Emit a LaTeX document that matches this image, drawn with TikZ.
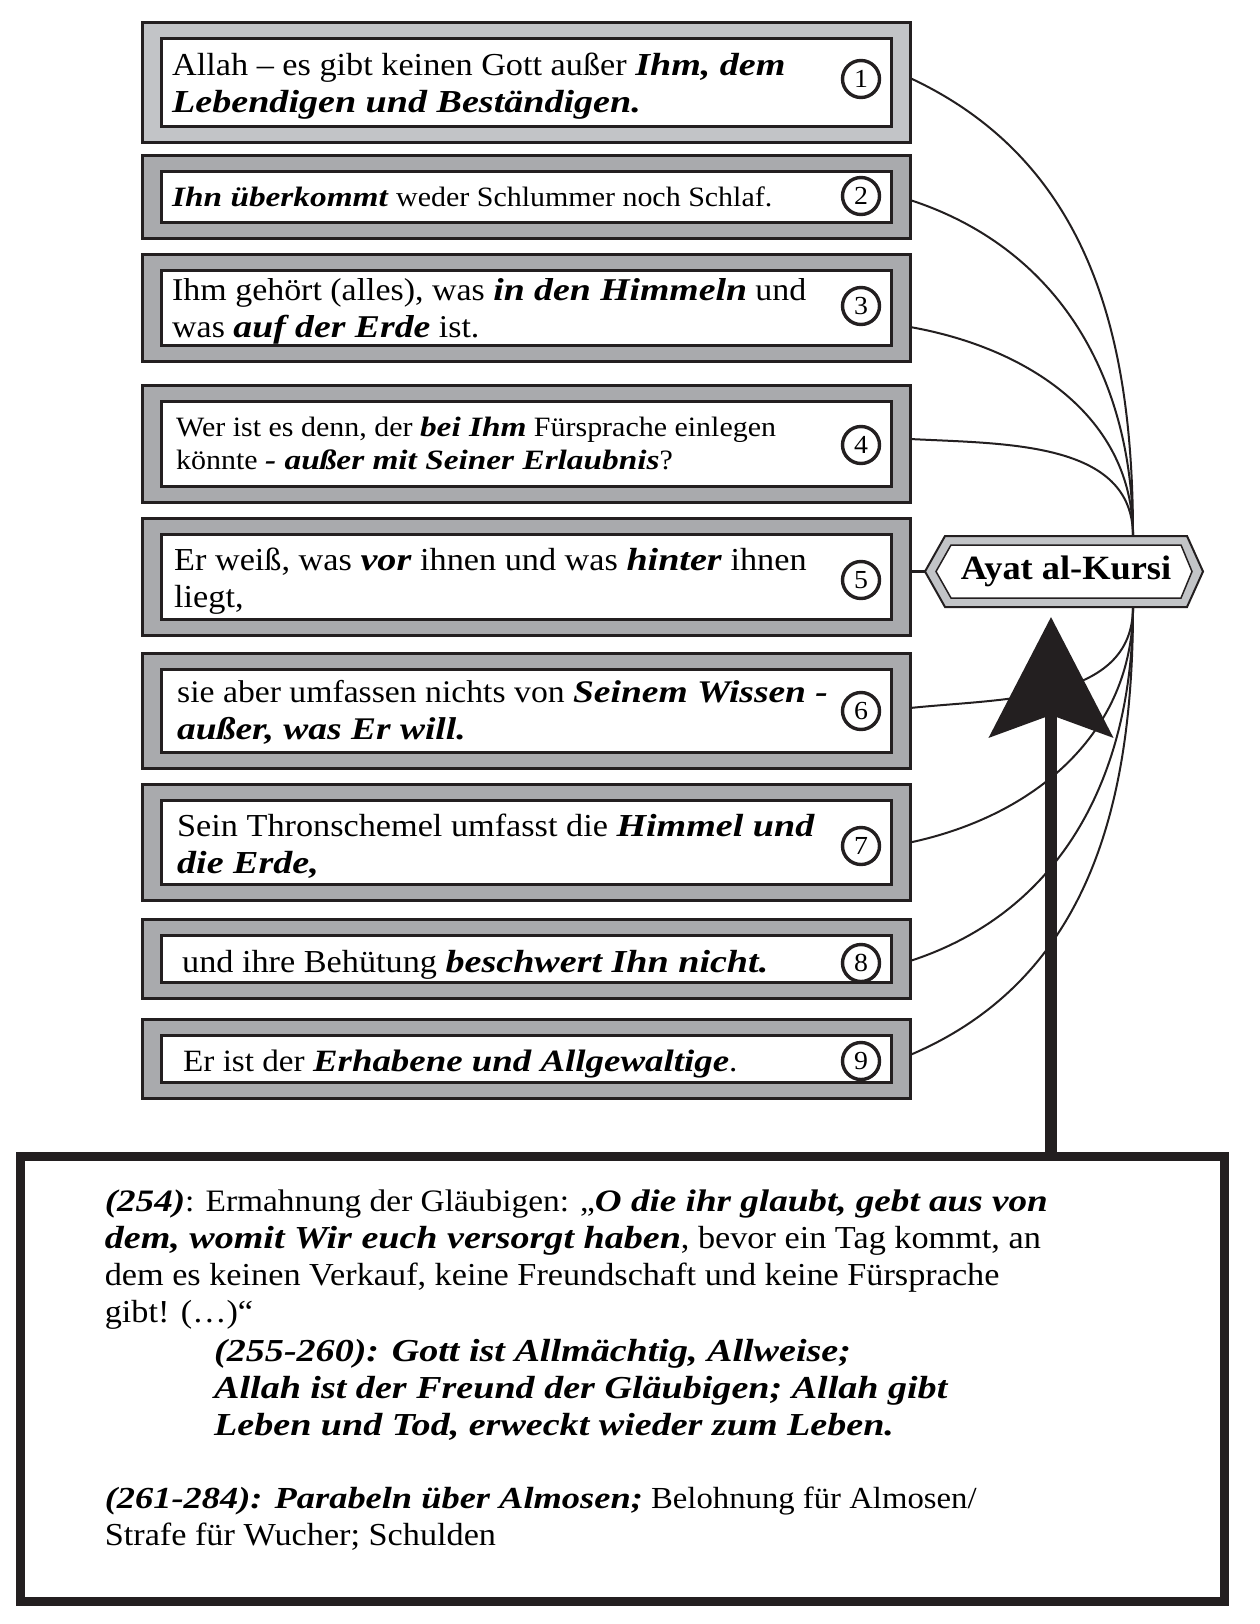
\documentclass[tikz,border=0pt]{standalone}
\usepackage{fontspec}
\setmainfont{Liberation Serif}[FakeStretch=1.07, BoldItalicFeatures={FakeStretch=1.19}]
\usetikzlibrary{arrows.meta}
\definecolor{ink}{HTML}{231F20}
\definecolor{lightg}{HTML}{C2C4C7}
\definecolor{darkg}{HTML}{A9AAAD}
\newcommand{\BI}[1]{\textbf{\textit{#1}}}
\begin{document}
\begin{tikzpicture}[x=1pt,y=1pt,
 outerbox/.style={draw=ink, line width=3pt, fill=darkg, inner sep=0pt, outer sep=0pt, minimum width=767.5pt},
 innerbox/.style={draw=ink, line width=3pt, fill=white, inner sep=0pt, outer sep=0pt, minimum width=730.5pt},
 numcirc/.style={circle, draw=ink, line width=3.4pt, minimum size=37pt, inner sep=0pt, font=\fontsize{26}{26}\selectfont},
 boxtext/.style={anchor=west, align=left, inner sep=0pt, font=\fontsize{32}{37}\selectfont},
 smalltext/.style={anchor=west, align=left, inner sep=0pt, font=\fontsize{28}{33}\selectfont},
 bottomtext/.style={anchor=west, align=left, inner sep=0pt, font=\fontsize{32}{37}\selectfont},
 link/.style={draw=ink, line width=2pt},
]
\useasboundingbox (0,0) rectangle (1259,-1624);
\fill[white] (0,0) rectangle (1259,-1624);

% hub coordinates
\coordinate (htop) at (1133,-536);
\coordinate (hbot) at (1133,-607);
\coordinate (hexleft) at (925,-571.5);
\coordinate (tip) at (1051,-617);

% outer boxes
\node[outerbox, fill=lightg, minimum height=120pt] (b1) at (526.25,-82.5) {};
\node[outerbox, minimum height=83pt] (b2) at (526.25,-197) {};
\node[outerbox, minimum height=107pt] (b3) at (526.25,-308) {};
\node[outerbox, minimum height=117pt] (b4) at (526.25,-444) {};
\node[outerbox, minimum height=117pt] (b5) at (526.25,-577) {};
\node[outerbox, minimum height=115pt] (b6) at (526.25,-711) {};
\node[outerbox, minimum height=116pt] (b7) at (526.25,-842.5) {};
\node[outerbox, minimum height=79pt] (b8) at (526.25,-959) {};
\node[outerbox, minimum height=79pt] (b9) at (526.25,-1059) {};

% inner boxes
\node[innerbox, minimum height=88pt] (i1) at (b1) {};
\node[innerbox, minimum height=51pt] (i2) at (b2) {};
\node[innerbox, minimum height=75pt] (i3) at (b3) {};
\node[innerbox, minimum height=85pt] (i4) at (b4) {};
\node[innerbox, minimum height=85pt] (i5) at (b5) {};
\node[innerbox, minimum height=83pt] (i6) at (b6) {};
\node[innerbox, minimum height=84pt] (i7) at (b7) {};
\node[innerbox, minimum height=47pt] (i8) at (b8) {};
\node[innerbox, minimum height=47pt] (i9) at (b9) {};

% texts
\node[boxtext] (t1) at (172,-86) {Allah – es gibt keinen Gott außer \BI{Ihm, dem}\\\BI{Lebendigen und Beständigen.}};
\node[smalltext] (t2) at (172,-196.5) {\BI{Ihn überkommt} weder Schlummer noch Schlaf.};
\node[boxtext, font=\fontsize{31.7}{37}\selectfont] (t3) at (172,-311.5) {Ihm gehört (alles), was \BI{in den Himmeln} und\\was \BI{auf der Erde} ist.};
\node[smalltext] (t4) at (176,-443) {Wer ist es denn, der \BI{bei Ihm} Fürsprache einlegen\\könnte \BI{- außer mit Seiner Erlaubnis}?};
\node[boxtext] (t5) at (174,-581) {Er weiß, was \BI{vor} ihnen und was \BI{hinter} ihnen\\liegt,};
\node[boxtext, font=\fontsize{31.5}{37}\selectfont] (t6) at (177,-712) {sie aber umfassen nichts von \BI{Seinem Wissen -}\\\BI{außer, was Er will.}};
\node[boxtext] (t7) at (177,-846.5) {Sein Thronschemel umfasst die \BI{Himmel und}\\\BI{die Erde,}};
\node[boxtext] (t8) at (182,-965) {und ihre Behütung \BI{beschwert Ihn nicht.}};
\node[boxtext, font=\fontsize{31}{37}\selectfont] (t9) at (183,-1064) {Er ist der \BI{Erhabene und Allgewaltige}.};

% numbers
\node[numcirc] (c1) at (861,-79) {1};
\node[numcirc] (c2) at (861,-196) {2};
\node[numcirc] (c3) at (861,-306) {3};
\node[numcirc] (c4) at (861,-445) {4};
\node[numcirc] (c5) at (861,-580) {5};
\node[numcirc] (c6) at (861,-711) {6};
\node[numcirc] (c7) at (861,-846) {7};
\node[numcirc] (c8) at (861,-963) {8};
\node[numcirc] (c9) at (861,-1061) {9};

% connectors
\draw[link] ([yshift=4.5pt]b1.east) to[out=-25,in=90] (htop);
\draw[link] ([yshift=-3pt]b2.east) to[out=-18,in=90] (htop);
\draw[link] ([yshift=-19pt]b3.east) to[out=-10,in=90] (htop);
\draw[link] ([yshift=5pt]b4.east) to[out=-3,in=90] (htop);
\draw[link] ([yshift=3pt]b6.east) to[out=6,in=-90] (hbot);
\draw[link] (b7.east) to[out=12,in=-90] (hbot);
\draw[link] ([yshift=-2pt]b8.east) to[out=18,in=-90] (hbot);
\draw[link] ([yshift=4pt]b9.east) to[out=23,in=-90] (hbot);
\draw[link, line width=3pt] (b5.east |- hexleft) -- (hexleft);

% hexagon
\draw[ink, line width=2pt, fill=lightg] (925,-571.5) -- (945,-536) -- (1187,-536) -- (1203,-571.5) -- (1187,-607) -- (945,-607) -- cycle;
\draw[ink, line width=1.5pt, fill=white] (936,-571.5) -- (951,-545) -- (1181,-545) -- (1192,-571.5) -- (1181,-598) -- (951,-598) -- cycle;
\node[font=\fontsize{34}{34}\selectfont\bfseries, inner sep=0pt] (ayat) at (1066,-571) {Ayat al-Kursi};

% bottom box
\node[draw=ink, line width=9pt, fill=white, inner sep=0pt, minimum width=1204.5pt, minimum height=445pt] (bottom) at (622.25,-1379) {};

% big arrow
\draw[ink, line width=12pt, -{Stealth[length=120pt, width=123pt, inset=22pt]}] (bottom.north -| tip) -- (tip);

% bottom texts
\node[bottomtext] (ba) at (104.6,-1259.5) {{\fontsize{31.2}{37}\selectfont\BI{(254)}: Ermahnung der Gläubigen: „\BI{O die ihr glaubt, gebt aus von}}\\\BI{dem, womit Wir euch versorgt haben}, bevor ein Tag kommt, an\\dem es keinen Verkauf, keine Freundschaft und keine Fürsprache\\gibt! (…)“};
\node[bottomtext] (bb) at (214,-1389.5) {\BI{(255-260): Gott ist Allmächtig, Allweise;}\\\BI{Allah ist der Freund der Gläubigen; Allah gibt}\\\BI{Leben und Tod, erweckt wieder zum Leben.}};
\node[bottomtext] (bc) at (104.6,-1518.5) {{\fontsize{30.6}{37}\selectfont\BI{(261-284): Parabeln über Almosen;} Belohnung für Almosen/}\\Strafe für Wucher; Schulden};
\end{tikzpicture}
\end{document}
